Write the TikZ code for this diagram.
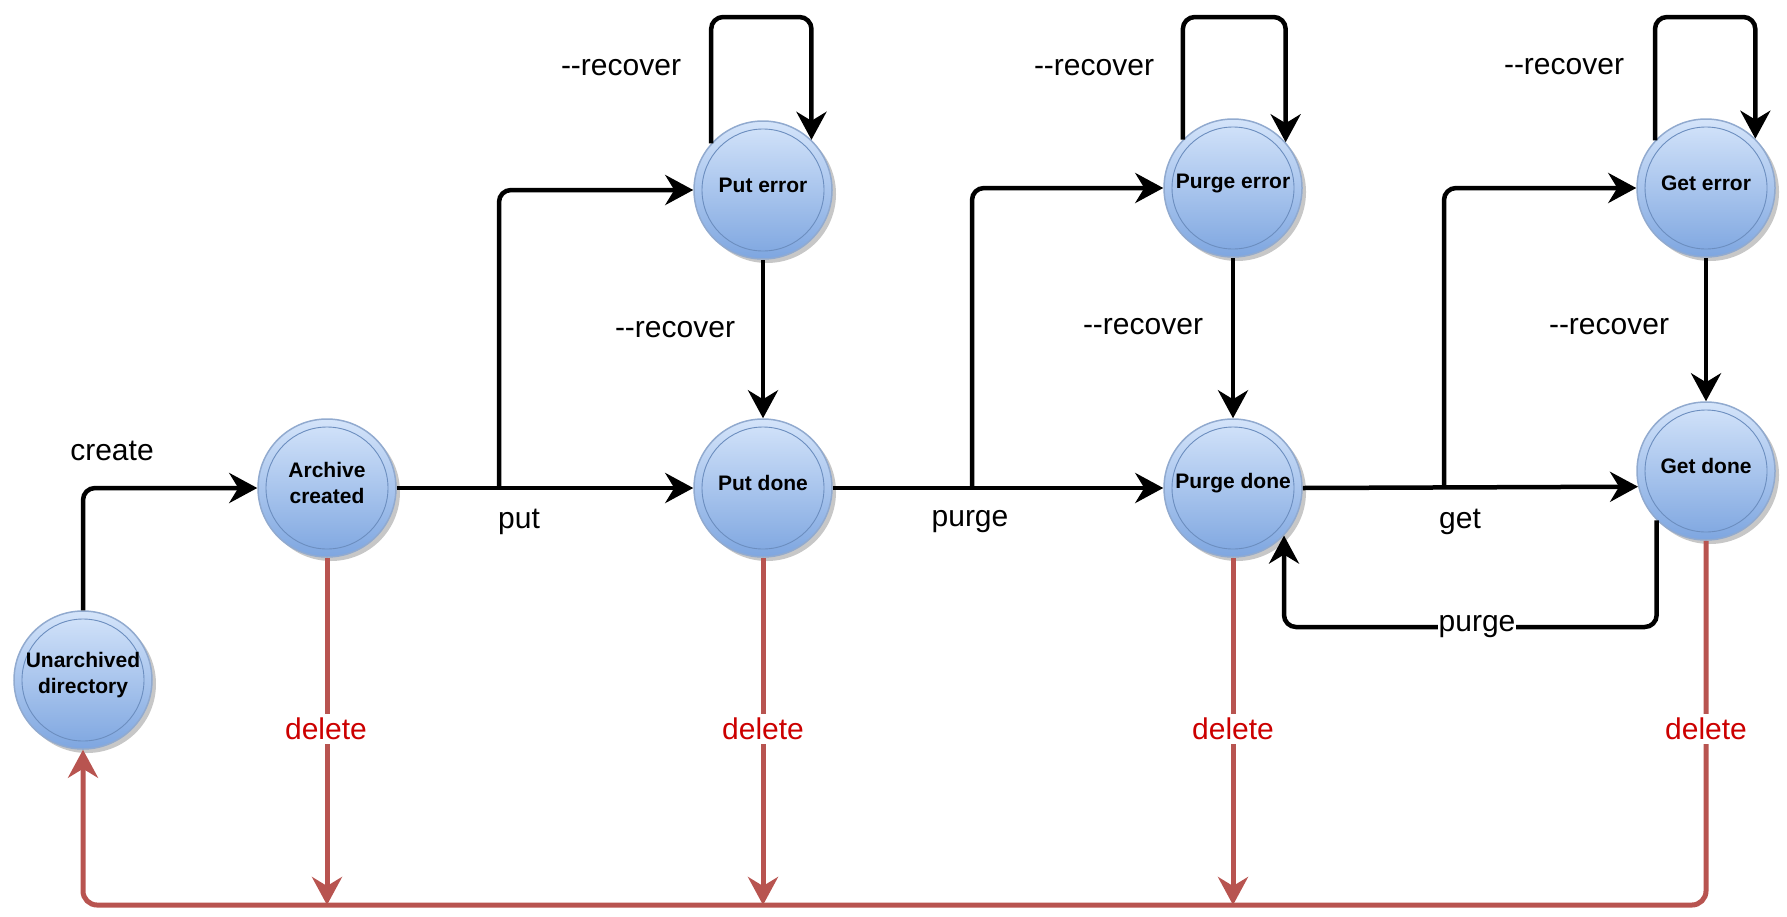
\documentclass[tikz,border=0pt]{standalone}
\usepackage{fontspec}
\setmainfont{Liberation Sans}
\usetikzlibrary{arrows.meta,shadows}
\definecolor{stfill}{HTML}{D4E4FA}
\definecolor{stgrad}{HTML}{7EA6E0}
\definecolor{stline}{HTML}{6C8EBF}
\definecolor{delline}{HTML}{B85450}
\definecolor{deltext}{HTML}{CC0000}

\tikzset{
  state/.style={circle, minimum size=138pt, inner sep=0pt,
    top color=stfill, bottom color=stgrad, draw=stline!75, line width=1.5pt,
    drop shadow={shadow xshift=4pt, shadow yshift=-4pt, fill=black, opacity=0.22},
    path picture={\draw[stline, line width=0.9pt]
      (path picture bounding box.center) circle (61pt);}},
  statetext/.style={align=center, inner sep=0pt, yshift=5pt,
    font=\fontsize{21}{26}\selectfont\bfseries},
  tip/.style={-{Stealth[length=28pt,width=30pt,inset=9pt]}},
  flow/.style={tip, line width=4.5pt, rounded corners=12pt, draw=black},
  del/.style={tip, line width=5pt, rounded corners=14pt, draw=delline},
  lbl/.style={font=\fontsize{30}{36}\selectfont, inner sep=2pt},
  dlbl/.style={lbl, text=deltext, fill=white, inner sep=4pt},
}

\begin{document}
\begin{tikzpicture}[x=1pt,y=-1pt]
\useasboundingbox (0,0) rectangle (1787,916);

% states
\node[state, label={[statetext]center:Unarchived\\directory}] (ua)  at (83,680) {};
\node[state, label={[statetext]center:Archive\\created}]      (arc) at (327,488) {};
\node[state, label={[statetext]center:Put done}]    (pd)  at (763,488)  {};
\node[state, label={[statetext]center:Put error}]   (pe)  at (763,190)  {};
\node[state, label={[statetext]center:Purge done}]  (pud) at (1233,488) {};
\node[state, label={[statetext]center:Purge error}] (pue) at (1233,188) {};
\node[state, label={[statetext]center:Get done}]    (gd)  at (1706,471) {};
\node[state, label={[statetext]center:Get error}]   (ge)  at (1706,188) {};

% helper points
\coordinate (bput)   at (499,488);
\coordinate (bpurge) at (972,488);
\coordinate (bget)   at (1444,488);
\coordinate (base)   at (0,905);

% main flow
\draw[flow] (ua) |- (arc);
\draw[flow] (arc) -- (pd);
\draw[flow] (bput) |- (pe);
\draw[flow] (pe) -- (pd);
\draw[flow] (pe.138) |- (pe.46 |- 0,17) -- (pe.46);

\draw[flow] (pd) -- (pud);
\draw[flow] (bpurge) |- (pue);
\draw[flow] (pue) -- (pud);
\draw[flow] (pue.136) |- (pue.41 |- 0,17) -- (pue.41);

\draw[flow] (pud.east) -- (gd.193);
\draw[flow] (bget) |- (ge);
\draw[flow] (ge) -- (gd);
\draw[flow] (ge.137) |- (ge.45 |- 0,17) -- (ge.45);

\draw[flow] (gd.225) -- (gd.225 |- 0,627) -| (pud.-43);

% delete transitions
\draw[del] (arc) -- (arc |- base);
\draw[del] (pd) -- (pd |- base);
\draw[del] (pud) -- (pud |- base);
\draw[del] (gd) -- (gd |- base) -| (ua);

% labels
\node[lbl] (lcreate) at (112,451) {create};
\node[lbl] (lput)    at (519,522) {put};
\node[lbl] (lpurge)  at (970,522) {purge};
\node[lbl] (lget)    at (1460,522) {get};
\node[lbl, fill=white, inner sep=1pt] (lpurge2) at (1477,627) {purge};

\node[lbl] (r1) at (621,68)  {-{}-recover};
\node[lbl] (r2) at (675,330) {-{}-recover};
\node[lbl] (r3) at (1094,68) {-{}-recover};
\node[lbl] (r4) at (1143,327) {-{}-recover};
\node[lbl] (r5) at (1564,67) {-{}-recover};
\node[lbl] (r6) at (1609,327) {-{}-recover};

\node[dlbl] (d1) at (326,729)  {delete};
\node[dlbl] (d2) at (763,729)  {delete};
\node[dlbl] (d3) at (1233,729) {delete};
\node[dlbl] (d4) at (1706,729) {delete};
\end{tikzpicture}
\end{document}
